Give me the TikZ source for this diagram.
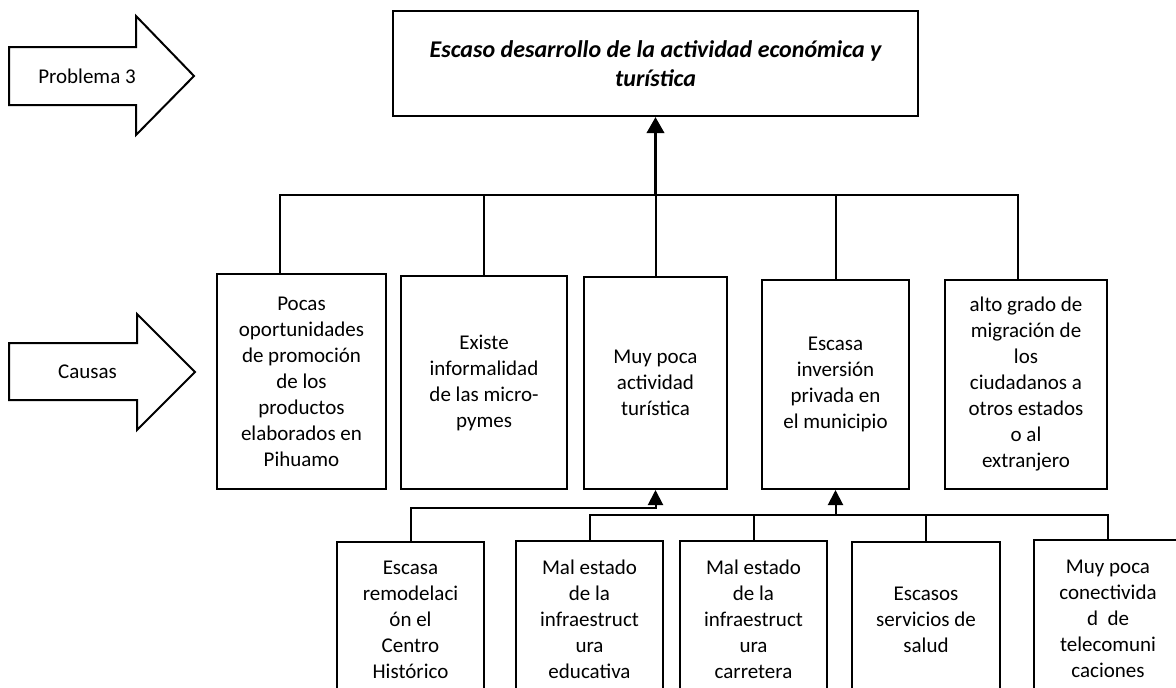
\documentclass[tikz,border=0pt]{standalone}
\usepackage{fontspec}
\setmainfont{Carlito}
\usetikzlibrary{arrows.meta}
\begin{document}
\begin{tikzpicture}[x=1pt,y=-1pt,
  box/.style={draw,line width=2pt,inner sep=0pt,align=center,font=\fontsize{21}{26}\selectfont},
  conn/.style={line width=2pt},
  tipconn/.style={line width=2pt,-{Triangle[width=15pt,length=15pt]}},
  mainconn/.style={line width=3.5pt,-{Triangle[width=17pt,length=16pt]}},
  blockarrow/.style={draw,line width=2pt,fill=white,line join=miter},
  lbl/.style={font=\fontsize{21}{26}\selectfont}]
\useasboundingbox (0,0) rectangle (1176,688);
\clip (0,0) rectangle (1176,688);
\fill[white] (0,0) rectangle (1176,688);

% side block arrows
\draw[blockarrow] (9,47) -- (136,47) -- (136,16) -- (194,76) -- (136,135) -- (136,105) -- (9,105) -- cycle;
\node[lbl] (prob) at (87,76) {Problema 3};
\draw[blockarrow] (9,343) -- (137,343) -- (137,314) -- (195,372) -- (137,430) -- (137,400) -- (9,400) -- cycle;
\node[lbl] (caus) at (87.5,372) {Causas};

% problem box
\node[box,font=\bfseries\itshape\fontsize{24}{29}\selectfont,minimum width=525pt,minimum height=105pt] (top) at (655.5,63.5)
  {Escaso desarrollo de la actividad económica y\\turística};

% causes
\node[box,minimum width=169pt,minimum height=215pt] (B1) at (301.5,381.5)
  {Pocas\\oportunidades\\de promoción\\de los\\productos\\elaborados en\\Pihuamo};
\node[box,minimum width=166pt,minimum height=213pt] (B2) at (484,382.5)
  {Existe\\informalidad\\de las micro-\\pymes};
\node[box,minimum width=143pt,minimum height=212pt] (B3) at (655.5,383)
  {Muy poca\\actividad\\turística};
\node[box,minimum width=147pt,minimum height=209pt] (B4) at (835.5,384.5)
  {Escasa\\inversión\\privada en\\el municipio};
\node[box,minimum width=162pt,minimum height=209pt] (B5) at (1026,384.5)
  {alto grado de\\migración de\\los\\ciudadanos a\\otros estados\\o al\\extranjero};

% sub-causes
\node[box,minimum width=147pt,minimum height=156pt] (C1) at (410.5,620)
  {Escasa\\remodelaci\\ón el\\Centro\\Histórico};
\node[box,minimum width=147pt,minimum height=157pt] (C2) at (589.5,619.5)
  {Mal estado\\de la\\infraestruct\\ura\\educativa};
\node[box,minimum width=147pt,minimum height=157pt] (C3) at (753.5,619.5)
  {Mal estado\\de la\\infraestruct\\ura\\carretera};
\node[box,minimum width=148pt,minimum height=156pt] (C4) at (926,620)
  {Escasos\\servicios de\\salud};
\node[box,minimum width=148pt,minimum height=158pt] (C5) at (1108,619)
  {Muy poca\\conectivida\\d~~de\\telecomuni\\caciones};

% connectors to the problem
\coordinate (J) at (655.5,195);
\draw[conn] ([xshift=-21.5pt]B1.north) |- (J);
\draw[conn] (B2.north) |- (J);
\draw[conn] (B3.north) -- (J);
\draw[conn] (B4.north) |- (J);
\draw[conn] ([xshift=-8pt]B5.north) |- (J);
\draw[mainconn] (J) -- (top.south);

% connectors to causes
\coordinate (K1) at (655.5,508);
\draw[tipconn] (C1.north) |- (K1) -- (B3.south);
\coordinate (K2) at (835.5,515);
\draw[conn] (C2.north) |- (K2);
\draw[conn] (C3.north) |- (K2);
\draw[conn] (C4.north) |- (K2);
\draw[conn] (C5.north) |- (K2);
\draw[tipconn] (K2) -- (B4.south);
\end{tikzpicture}
\end{document}
